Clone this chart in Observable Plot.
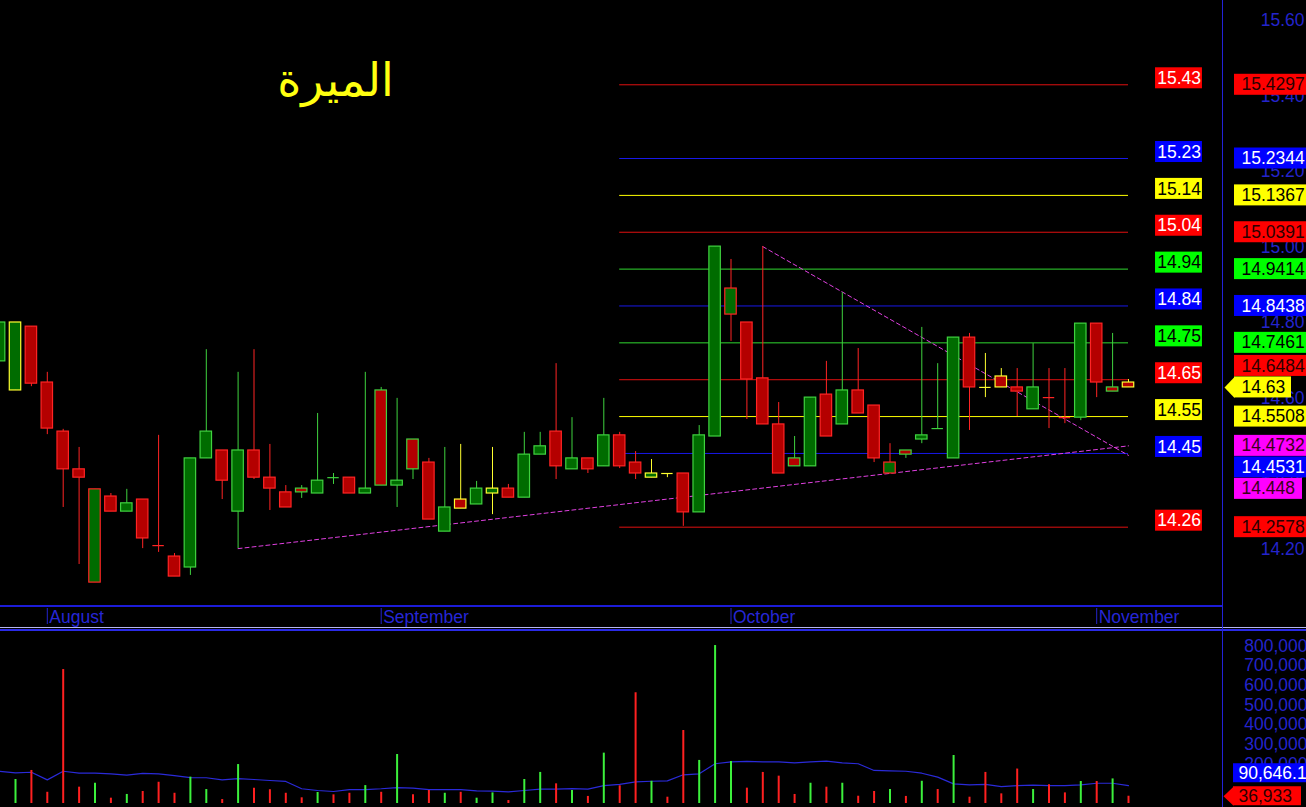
<!DOCTYPE html>
<html><head><meta charset="utf-8">
<script src="https://cdn.jsdelivr.net/npm/d3@7"></script>
<script src="https://cdn.jsdelivr.net/npm/@observablehq/plot@0.6"></script>
<style>
html,body{margin:0;padding:0;background:#000;}
#chart{position:relative;width:1306px;height:807px;background:#000;overflow:hidden;font-family:"Liberation Sans",Arial,sans-serif;}
#chart > div{position:absolute;}
#chart svg{display:block;overflow:hidden;}
</style></head><body><div id="chart"></div>
<script>
// ---------- data ----------
const title = "الميرة";
const candleIdx = d3.range(-1, 71);
const open = [14.697,14.62,14.789,14.641,14.511,14.411,14.111,14.339,14.299,14.331,
14.209,14.180,14.151,14.440,14.461,14.299,14.461,14.389,14.350,14.360,
14.347,14.389,14.389,14.347,14.620,14.368,14.490,14.429,14.246,14.331,
14.318,14.347,14.360,14.336,14.450,14.511,14.411,14.440,14.419,14.501,
14.429,14.389,14.400,14.400,14.297,14.498,14.821,14.800,14.652,14.530,
14.440,14.419,14.609,14.530,14.620,14.580,14.400,14.461,14.490,14.519,
14.440,14.760,14.628,14.657,14.628,14.570,14.601,14.548,14.548,14.797,14.628,14.641];
const high = [14.80,14.80,14.789,14.668,14.517,14.469,14.358,14.347,14.358,14.331,
14.501,14.188,14.440,14.728,14.461,14.668,14.728,14.477,14.368,14.368,
14.559,14.400,14.389,14.668,14.628,14.599,14.490,14.440,14.469,14.477,
14.379,14.469,14.371,14.509,14.509,14.691,14.548,14.440,14.599,14.509,
14.458,14.437,14.400,14.400,14.527,15.001,14.967,14.800,15.001,14.588,
14.498,14.601,14.697,14.879,14.731,14.580,14.479,14.461,14.787,14.691,
14.760,14.771,14.718,14.678,14.678,14.744,14.678,14.678,14.797,14.797,14.771,14.649];
const low = [14.697,14.62,14.630,14.503,14.310,14.159,14.111,14.299,14.299,14.201,
14.191,14.127,14.130,14.440,14.331,14.201,14.384,14.302,14.310,14.334,
14.347,14.371,14.347,14.347,14.368,14.310,14.384,14.278,14.246,14.307,
14.318,14.291,14.336,14.336,14.450,14.384,14.411,14.400,14.419,14.413,
14.384,14.389,14.389,14.260,14.297,14.498,14.750,14.543,14.530,14.400,
14.419,14.419,14.498,14.530,14.559,14.429,14.400,14.440,14.479,14.519,
14.440,14.514,14.601,14.628,14.551,14.570,14.519,14.532,14.540,14.601,14.617,14.628];
const close = [14.80,14.80,14.638,14.519,14.411,14.389,14.358,14.299,14.321,14.228,
14.209,14.127,14.440,14.511,14.381,14.461,14.389,14.360,14.310,14.350,
14.381,14.389,14.347,14.360,14.368,14.381,14.411,14.278,14.310,14.307,
14.360,14.360,14.336,14.450,14.472,14.419,14.440,14.411,14.501,14.419,
14.400,14.400,14.400,14.297,14.501,15.001,14.890,14.649,14.530,14.400,
14.419,14.601,14.498,14.620,14.559,14.440,14.429,14.450,14.501,14.519,
14.760,14.628,14.628,14.628,14.617,14.628,14.601,14.548,14.797,14.641,14.617,14.628];
const signal = ["g","y","r","r","r","r","r","r","g","r",
"r","r","g","g","r","g","r","r","r","g",
"g","g","r","g","g","g","g","r","g","y",
"g","y","r","g","g","r","g","r","g","r",
"r","y","y","r","g","g","r","r","r","r",
"g","g","r","g","r","r","r","g","g","g",
"g","r","y","y","r","g","r","r","g","r","g","y"];

const volIdx = d3.range(0, 71);
const volume = [122000,168000,57000,681000,83000,103000,27000,46000,61000,108000,
52000,134000,71000,20000,198000,78000,70000,52000,29000,56000,
44000,52000,91000,57000,249000,44000,66000,52000,57000,27000,
54000,15000,122000,158000,100000,66000,36000,256000,90000,563000,
113000,32000,371000,219000,803000,214000,78000,158000,139000,46000,
103000,83000,103000,37000,61000,71000,36000,113000,71000,244000,
32000,158000,49000,175000,71000,95000,54000,112000,112000,125000,36933];
const volDir = ["u","d","d","d","d","u","d","u","d","d",
"d","u","u","d","u","d","d","d","d","u",
"d","d","u","d","u","d","d","u","d","u",
"u","d","u","u","d","u","d","u","d","d",
"u","d","d","u","u","u","d","d","d","d",
"u","d","u","d","d","u","d","u","d","u",
"d","d","d","d","u","d","d","u","d","u","d"];
const volMA = [164000,156000,159000,120000,164000,154000,154000,151000,144000,153000,
151000,142000,132000,131000,120000,126000,122000,117000,112000,75000,
66000,61000,71000,71000,75000,81000,78000,71000,71000,71000,
64000,63000,59000,66000,73000,73000,76000,73000,91000,97000,
110000,113000,115000,146000,151000,202000,212000,214000,212000,212000,
207000,212000,215000,207000,202000,168000,166000,164000,154000,134000,
100000,95000,97000,86000,91000,93000,91000,91000,95000,103000,103000,90646.1];

const monthNames = ["August","September","October","November"];
const monthIdx = [2, 23, 45, 68];

const fibLevels = [15.4297,15.2344,15.1367,15.0391,14.9414,14.8438,14.7461,14.6484,14.5508,14.4531,14.2578];
const fibTone = ["r","b","y","r","g","b","g","r","y","b","r"];
const fibStart = 38, fibEnd = 70;

const supportIdx = [14, 70], supportVal = [14.201, 14.4732];
const resistIdx = [47, 70], resistVal = [15.001, 14.448];

const priceTicks = [15.6,15.4,15.2,15.0,14.8,14.6,14.4,14.2];
const volTicks = [200000,300000,400000,500000,600000,700000,800000];

// ---------- styles ----------
const candleLine = {g:"#3fd23f", r:"#ff2424", y:"#ffff30"};
const upFill = "#006c00", downFill = "#b40000";
const fibLine = {r:"#e01010", b:"#1818e8", y:"#ffff00", g:"#30d830"};
const boxFill = {r:"#ff0000", b:"#0000ff", y:"#ffff00", g:"#00ff00", m:"#ff00ff"};
const leftText = {r:"#ffffff", b:"#ffffff", y:"#000000", g:"#000000"};
const rightText = {r:"#2a0000", b:"#ffffff", y:"#000000", g:"#000000", m:"#3a0018"};
const axisBlue = "#2424cc";
const trendColor = "#e040e0";
const font = "Liberation Sans, Arial, sans-serif";

// ---------- geometry ----------
const W = 1306, stripW = 84, frameW = W - stripW;
const step = 15.9, x0 = 15;                 // candle pitch and first centre
const xDomain = [-x0 / step, (frameW - x0) / step];
const priceH = 606, pxPerUnit = 377.5;
const yDomain = [15.60 - (priceH - 20) / pxPerUnit, 15.60 + 20 / pxPerUnit];
const volH = 177, volPerPx = 100000 / 19.67, volZeroPx = 173;
const vDomain = [-(volH - volZeroPx) * volPerPx, volZeroPx * volPerPx];
const half = 0.36;

const candles = candleIdx.map((i, k) => ({i, open: open[k], high: high[k], low: low[k], close: close[k], tone: signal[k]}));
const bodies = candles.filter(d => d.open !== d.close);
const dojis = candles.filter(d => d.open === d.close);
const fib = fibLevels.map((v, k) => ({value: v, tone: fibTone[k]}));
const support = supportIdx.map((i, k) => ({i, p: supportVal[k]}));
const resist = resistIdx.map((i, k) => ({i, p: resistVal[k]}));
const vols = volIdx.map((i, k) => ({i, v: volume[k], dir: volDir[k]}));
const ma = candleIdx.map((i, k) => ({i, v: volMA[k]}));
const months = monthIdx.map((i, k) => ({i, name: monthNames[k]}));

const chart = document.getElementById("chart");
function place(node, left, top) {
  const div = document.createElement("div");
  div.style.left = left + "px"; div.style.top = top + "px";
  div.appendChild(node); chart.appendChild(div);
}
function line(left, top, w, h, color) {
  const div = document.createElement("div");
  Object.assign(div.style, {left: left + "px", top: top + "px", width: w + "px", height: h + "px", background: color});
  chart.appendChild(div);
}
const baseStyle = {background: "transparent", fontFamily: font, overflow: "hidden"};

// ---------- price panel ----------
const price = Plot.plot({
  width: W, height: priceH, marginLeft: 0, marginRight: stripW, marginTop: 0, marginBottom: 0,
  x: {domain: xDomain, axis: null},
  y: {domain: yDomain, axis: null},
  style: baseStyle,
  marks: [
    Plot.ruleY(fib, {y: "value", x1: () => fibStart, x2: () => fibEnd, stroke: d => fibLine[d.tone], strokeWidth: 1}),
    Plot.line(support, {x: "i", y: "p", stroke: trendColor, strokeWidth: 1, strokeDasharray: "4,3"}),
    Plot.line(resist, {x: "i", y: "p", stroke: trendColor, strokeWidth: 1, strokeDasharray: "4,3"}),
    Plot.ruleX(candles, {x: "i", y1: "low", y2: "high", stroke: d => candleLine[d.tone], strokeWidth: 1}),
    Plot.rect(bodies, {x1: d => d.i - half, x2: d => d.i + half, y1: "open", y2: "close",
      fill: d => d.close > d.open ? upFill : downFill, stroke: d => candleLine[d.tone], strokeWidth: 1.2}),
    Plot.ruleY(dojis, {y: "close", x1: d => d.i - half, x2: d => d.i + half, stroke: d => candleLine[d.tone], strokeWidth: 1.2}),
    Plot.rect(fib, {x1: () => fibEnd + 1.7, x2: () => fibEnd + 4.65,
      y1: d => d.value - 4 / pxPerUnit, y2: d => d.value + 17 / pxPerUnit, fill: d => boxFill[d.tone]}),
    Plot.text(fib, {x: () => fibEnd + 3.18, y: "value", dy: -6.5, text: d => d.value.toFixed(2),
      fill: d => leftText[d.tone], fontSize: 17.5, textAnchor: "middle"}),
    Plot.text([title], {frameAnchor: "top-left", dx: 335, dy: 81, lineAnchor: "middle", text: d => d, fill: "#ffff10",
      fontSize: 46, fontFamily: "DejaVu Sans", textAnchor: "middle"})
  ]
});
place(price, 0, 0);

// label stacking (keeps the current value fixed, pushes others away)
function stack(items, fixed, h, scale) {
  items.forEach(d => d.cy = scale(d.value));
  fixed.cy = scale(fixed.value);
  const above = items.filter(d => d.cy <= fixed.cy).sort((a, b) => b.cy - a.cy);
  const below = items.filter(d => d.cy > fixed.cy).sort((a, b) => a.cy - b.cy);
  let prev = fixed.cy;
  for (const d of above) { d.cy = Math.min(d.cy, prev - h); prev = d.cy; }
  prev = fixed.cy;
  for (const d of below) { d.cy = Math.max(d.cy, prev + h); prev = d.cy; }
  return items.concat([fixed]);
}
const leftArrow = {draw(ctx) { ctx.moveTo(-10, 0); ctx.lineTo(0, -10.5); ctx.lineTo(0, 10.5); ctx.closePath(); }};

// ---------- price strip (right axis) ----------
const yS = d3.scaleLinear().domain(yDomain).range([priceH, 0]);
const rightItems = fib.map(d => ({value: d.value, tone: d.tone, text: String(d.value)}))
  .concat([{value: supportVal[1], tone: "m", text: String(supportVal[1])}, {value: resistVal[1], tone: "m", text: String(resistVal[1])}]);
const current = {value: close[close.length - 1], tone: "y", text: close[close.length - 1].toFixed(2), arrow: true};
const rBoxes = stack(rightItems, current, 21.5, yS).map(d => ({...d,
  x1: 12, x2: 12 + 11 * d.text.length + 2, y1: yS.invert(d.cy + 10.5), y2: yS.invert(d.cy - 10.5), yc: yS.invert(d.cy)}));
const pStrip = Plot.plot({
  width: stripW, height: priceH, margin: 0,
  x: {domain: [0, stripW], axis: null},
  y: {domain: yDomain, axis: null},
  style: baseStyle,
  marks: [
    Plot.text(priceTicks, {y: d => d, text: d => d.toFixed(2), frameAnchor: "right", textAnchor: "end", dx: -2, fill: axisBlue, fontSize: 17.5}),
    Plot.rect(rBoxes, {x1: "x1", x2: "x2", y1: "y1", y2: "y2", fill: d => boxFill[d.tone]}),
    Plot.dot(rBoxes.filter(d => d.arrow), {x: "x1", y: "yc", symbol: leftArrow, fill: d => boxFill[d.tone], stroke: "none"}),
    Plot.text(rBoxes, {x: d => d.x1 + 7, y: "yc", text: "text", textAnchor: "start", fill: d => rightText[d.tone], fontSize: 17.5})
  ]
});
place(pStrip, frameW, 0);

// ---------- month band ----------
const band = Plot.plot({
  width: W, height: 20, marginLeft: 0, marginRight: stripW, marginTop: 0, marginBottom: 0,
  x: {domain: xDomain, axis: null},
  style: baseStyle,
  marks: [
    Plot.ruleX(months, {x: "i", stroke: axisBlue, insetTop: 1, insetBottom: 3}),
    Plot.text(months, {x: "i", text: "name", textAnchor: "start", dx: 2, dy: 0, fill: "#2626d6", fontSize: 17.5})
  ]
});
place(band, 0, 607);

// ---------- volume panel ----------
const vol = Plot.plot({
  width: W, height: volH, marginLeft: 0, marginRight: stripW, marginTop: 0, marginBottom: 0,
  x: {domain: xDomain, axis: null},
  y: {domain: vDomain, axis: null},
  style: baseStyle,
  marks: [
    Plot.line(ma, {x: "i", y: "v", stroke: "#2a2ad8", strokeWidth: 1.2}),
    Plot.ruleX(vols, {x: "i", y1: () => 0, y2: "v", stroke: d => d.dir === "u" ? "#3cf03c" : "#ff2020", strokeWidth: 2})
  ]
});
place(vol, 0, 630);

const vS = d3.scaleLinear().domain(vDomain).range([volH, 0]);
const lastVol = volume[volume.length - 1], lastMA = volMA[volMA.length - 1];
const vItems = [{value: lastMA, tone: "b", text: d3.format(",.1f")(lastMA)}];
const vCur = {value: lastVol, tone: "r", text: d3.format(",")(lastVol), arrow: true};
const vBoxes = stack(vItems, vCur, 23, vS).map(d => ({...d,
  x1: 11, x2: 11 + 11 * d.text.length + 2, y1: vS.invert(d.cy + 9.5), y2: vS.invert(d.cy - 9.5), yc: vS.invert(d.cy)}));
const vArrow = {draw(ctx) { ctx.moveTo(-10, 0); ctx.lineTo(0, -9.5); ctx.lineTo(0, 9.5); ctx.closePath(); }};
const vStrip = Plot.plot({
  width: stripW, height: volH, margin: 0,
  x: {domain: [0, stripW], axis: null},
  y: {domain: vDomain, axis: null},
  style: baseStyle,
  marks: [
    Plot.text(volTicks, {y: d => d, text: d => d3.format(",")(d), frameAnchor: "right", textAnchor: "end", dx: 1, fill: axisBlue, fontSize: 17.5}),
    Plot.rect(vBoxes, {x1: "x1", x2: "x2", y1: "y1", y2: "y2", fill: d => boxFill[d.tone]}),
    Plot.dot(vBoxes.filter(d => d.arrow), {x: "x1", y: "yc", symbol: vArrow, fill: d => boxFill[d.tone], stroke: "none"}),
    Plot.text(vBoxes, {x: d => d.x1 + 5, y: "yc", text: "text", textAnchor: "start", fill: d => rightText[d.tone], fontSize: 17.5})
  ]
});
place(vStrip, frameW, 630);

// ---------- separators ----------
line(0, 605, frameW, 2, "#1c1cd8");
line(0, 627, W, 1, "#b4b4f0");
line(0, 629, W, 2, "#2a2ae6");
line(frameW, 0, 1, 807, "#2222d8");
</script></body></html>
